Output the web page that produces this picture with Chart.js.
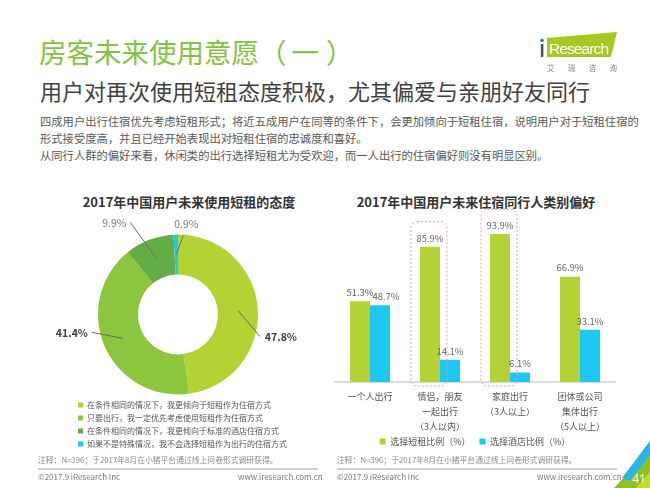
<!DOCTYPE html>
<html>
<head>
<meta charset="utf-8">
<script src="https://cdn.jsdelivr.net/npm/chart.js@4.4.0/dist/chart.umd.min.js"></script>
<style>
  body { margin: 0; width: 650px; height: 488px; position: relative; overflow: hidden; background: #fff;
         font-family: "Noto Sans CJK SC", "Noto Sans", sans-serif; }
  .t { position: absolute; white-space: nowrap; line-height: 1; }
  #title { left: 39px; top: 38px; font-size: 27.5px; color: #86c241; }
  #title span { margin: 0 7px 0 5px; }
  #subtitle { left: 40px; top: 79px; font-size: 22px; color: #404040; }
  .body { left: 40px; font-size: 11.3px; color: #595959; line-height: 17px; }
  .ctitle { font-size: 13px; font-weight: bold; color: #333; transform: translateX(-50%); }
  .note { font-size: 7.8px; color: #8a8a8a; top: 456px; }
  .foot { font-size: 8px; color: #7a7a7a; top: 473px; }
  .rule { position: absolute; height: 2px; background: #cfcfcf; top: 468px; }
  canvas { position: absolute; }
  svg { position: absolute; left: 0; top: 0; }
</style>
</head>
<body>
<div class="t" id="title">房客未来使用意愿（<span>一</span>）</div>
<div class="t" id="subtitle">用户对再次使用短租态度积极，尤其偏爱与亲朋好友同行</div>
<div class="t body" style="top:113px;">四成用户出行住宿优先考虑短租形式；将近五成用户在同等的条件下，会更加倾向于短租住宿，说明用户对于短租住宿的</div>
<div class="t body" style="top:130px;">形式接受度高，并且已经开始表现出对短租住宿的忠诚度和喜好。</div>
<div class="t body" style="top:147px;">从同行人群的偏好来看，休闲类的出行选择短租尤为受欢迎，而一人出行的住宿偏好则没有明显区别。</div>

<div class="t ctitle" style="left:189px; top:195px;">2017年中国用户未来使用短租的态度</div>
<div class="t ctitle" style="left:476px; top:195px;">2017年中国用户未来住宿同行人类别偏好</div>

<canvas id="donut" width="300" height="253" style="left:28px; top:205px;"></canvas>
<canvas id="bars" width="300" height="251" style="left:330px; top:205px;"></canvas>

<div class="t note" style="left:38px;">注释：N=396；于2017年8月在小猪平台通过线上问卷形式调研获得。</div>
<div class="t note" style="left:337px;">注释：N=396；于2017年8月在小猪平台通过线上问卷形式调研获得。</div>
<div class="rule" style="left:38px; width:280px;"></div>
<div class="rule" style="left:337px; width:280px;"></div>
<div class="t foot" style="left:38px;">©2017.9 iResearch Inc</div>
<div class="t foot" style="left:238px; width:80px; text-align:right;">www.iresearch.com.cn</div>
<div class="t foot" style="left:337px;">©2017.9 iResearch Inc</div>
<div class="t foot" style="left:537px; width:80px; text-align:right;">www.iresearch.com.cn</div>

<svg width="650" height="488">
  <!-- logo -->
  <polygon points="547,38 617,32 611,57 547,57" fill="#a5c823"/>
  <text x="549" y="54" font-family="Liberation Sans, Arial" font-size="15.5" fill="#fff" textLength="60">Research</text>
  <rect x="540.8" y="44" width="2.6" height="13" fill="#555"/>
  <circle cx="542.1" cy="40.5" r="1.7" fill="#1f6fc1"/>
  <text x="547" y="71" font-family="Noto Sans CJK SC" font-size="7.5" fill="#888" textLength="70">艾瑞咨询</text>
  <!-- corner -->
  <polygon points="614,488 650,450 650,488" fill="#8dc21f"/>
  <polygon points="636,488 650,472 650,488" fill="#c5dc2a"/>
  <polygon points="622,478 650,441 650,455 630,481" fill="#2ab5e8"/>
  <text x="639" y="483" text-anchor="middle" font-family="Noto Sans" font-size="12" fill="#fff">41</text>
</svg>

<script>
// {{{ data
const attitudeLabels = [
  '在条件相同的情况下，我更倾向于短租作为住宿方式',
  '只要出行，我一定优先考虑使用短租作为住宿方式',
  '在条件相同的情况下，我更倾向于标准的酒店住宿方式',
  '如果不是特殊情况，我不会选择短租作为出行的住宿方式'
];
const attitudeValues = [47.8, 41.4, 9.9, 0.9];
const attitudeColors = ['#b3d234', '#8cc63f', '#63ad44', '#1ec8f0'];

const companionLabels = [
  ['一个人出行'],
  ['情侣，朋友', '一起出行', '（3人以内）'],
  ['家庭出行', '（3人以上）'],
  ['团体或公司', '集体出行', '（5人以上）']
];
const seriesNames = ['选择短租比例（%）', '选择酒店比例（%）'];
const shortRentValues = [51.3, 85.9, 93.9, 66.9];
const hotelValues = [48.7, 14.1, 6.1, 33.1];
const highlightGroups = [1, 2];
// }}}

const cjk = '"Noto Sans CJK SC", "Noto Sans", sans-serif';

// {{{ donut leader labels
// offset of each leader line end from the middle of its slice, and how the text hangs off it
const leaderLayout = [
  {dx: 22, dy: 26, align: 'left', bold: true},
  {dx: -31, dy: -6, align: 'right', bold: true},
  {dx: -26, dy: -36, align: 'right', bold: false},
  {dx: 7, dy: -19, align: 'center', bold: false}
];
const donutLabels = {
  id: 'donutLabels',
  // the legend sits under the ring but runs wider than the ring's box
  afterLayout(chart)
  {
    const lg = chart.legend;
    lg.right = chart.width;
    lg.width = lg.right - lg.left;
  },
  afterDatasetsDraw(chart)
  {
    const ctx = chart.ctx;
    const meta = chart.getDatasetMeta(0);
    ctx.save();
    meta.data.forEach((arc, i) =>
    {
      const p = arc.getProps(['x', 'y', 'startAngle', 'endAngle', 'innerRadius', 'outerRadius'], true);
      const mid = (p.startAngle + p.endAngle) / 2;
      const r = (p.innerRadius + p.outerRadius) / 2;
      const sx = p.x + Math.cos(mid) * r;
      const sy = p.y + Math.sin(mid) * r;
      const l = leaderLayout[i];
      const ex = sx + l.dx;
      const ey = sy + l.dy;
      ctx.strokeStyle = '#6b6b6b';
      ctx.lineWidth = 1;
      ctx.beginPath();
      ctx.moveTo(sx, sy);
      ctx.lineTo(ex, ey);
      ctx.stroke();
      ctx.font = (l.bold ? 'bold ' : '') + '10.5px ' + cjk;
      ctx.fillStyle = l.bold ? '#404040' : '#7a7a7a';
      ctx.textBaseline = 'middle';
      const txt = attitudeValues[i].toFixed(1) + '%';
      if (l.align == 'left')
      {
        ctx.textAlign = 'left';
        ctx.fillText(txt, ex + 5, ey + 1);
      }
      else if (l.align == 'right')
      {
        ctx.textAlign = 'right';
        ctx.fillText(txt, ex - 4, ey + 1);
      }
      else
      {
        ctx.textAlign = 'center';
        ctx.fillText(txt, ex + 3, ey - 12);
      }
    });
    ctx.restore();
  }
};
// }}}

// {{{ bar value labels + dashed highlight boxes
const barLabels = {
  id: 'barLabels',
  afterDatasetsDraw(chart)
  {
    const ctx = chart.ctx;
    const base = chart.scales.y.getPixelForValue(0);
    ctx.save();
    // dashed boxes round the short-rent bars of the highlighted groups
    const green = chart.getDatasetMeta(0).data;
    ctx.strokeStyle = '#f29b9b';
    ctx.lineWidth = 1;
    ctx.setLineDash([2, 2]);
    highlightGroups.forEach((g) =>
    {
      const b = green[g];
      const x0 = b.x - b.width / 2 - 9;
      const x1 = b.x + b.width / 2 + 7;
      const y0 = b.y - 25;
      const y1 = base + 4;
      ctx.beginPath();
      ctx.roundRect(x0, y0, x1 - x0, y1 - y0, 6);
      ctx.stroke();
    });
    ctx.setLineDash([]);
    ctx.font = '9.5px ' + cjk;
    ctx.fillStyle = '#666';
    ctx.textAlign = 'center';
    ctx.textBaseline = 'bottom';
    chart.data.datasets.forEach((ds, d) =>
    {
      chart.getDatasetMeta(d).data.forEach((b, i) =>
      {
        const shift = (d == 1 && i == 0) ? 6 : 0;
        ctx.fillText(ds.data[i].toFixed(1) + '%', b.x + shift, b.y - 4);
      });
    });
    ctx.restore();
  }
};
// }}}

new Chart(document.getElementById('donut'),
{
  type: 'doughnut',
  data: {
    labels: attitudeLabels,
    datasets: [{data: attitudeValues, backgroundColor: attitudeColors, borderWidth: 0}]
  },
  options: {
    responsive: false,
    animation: false,
    radius: 80,
    cutout: '50%',
    layout: {padding: {top: 28, left: 45, right: 45, bottom: 0}},
    plugins: {
      tooltip: {enabled: false},
      legend: {
        position: 'bottom',
        align: 'start',
        labels: {boxWidth: 5, boxHeight: 5, padding: 5, color: '#555', font: {size: 8, family: cjk}}
      }
    }
  },
  plugins: [donutLabels]
});

new Chart(document.getElementById('bars'),
{
  type: 'bar',
  data: {
    labels: companionLabels,
    datasets: [
      {label: seriesNames[0], data: shortRentValues, backgroundColor: '#b2d235'},
      {label: seriesNames[1], data: hotelValues, backgroundColor: '#1cc7f1'}
    ]
  },
  options: {
    responsive: false,
    animation: false,
    layout: {padding: {top: 19.5, left: 5, right: 15, bottom: 0}},
    datasets: {bar: {categoryPercentage: 0.572, barPercentage: 1}},
    scales: {
      x: {
        grid: {display: false, drawTicks: false},
        border: {display: true, color: '#dcdcdc', width: 2},
        ticks: {color: '#555', padding: 7.5, maxRotation: 0, autoSkip: false, font: {size: 9, family: cjk, lineHeight: 15 / 9}},
        afterFit: (scale) => { scale.height = 50.5; }
      },
      y: {display: false, min: 0, max: 100}
    },
    plugins: {
      tooltip: {enabled: false},
      legend: {
        position: 'bottom',
        labels: {
          boxWidth: 6, boxHeight: 6, padding: 4.5, color: '#555', font: {size: 9, family: cjk},
          // widen the gap between the two entries
          generateLabels: (chart) =>
          {
            const items = Chart.defaults.plugins.legend.labels.generateLabels(chart);
            items.forEach((it, i) => { if (i < items.length - 1) it.text += '\u3000'; });
            return items;
          }
        }
      }
    }
  },
  plugins: [barLabels]
});
</script>
</body>
</html>
